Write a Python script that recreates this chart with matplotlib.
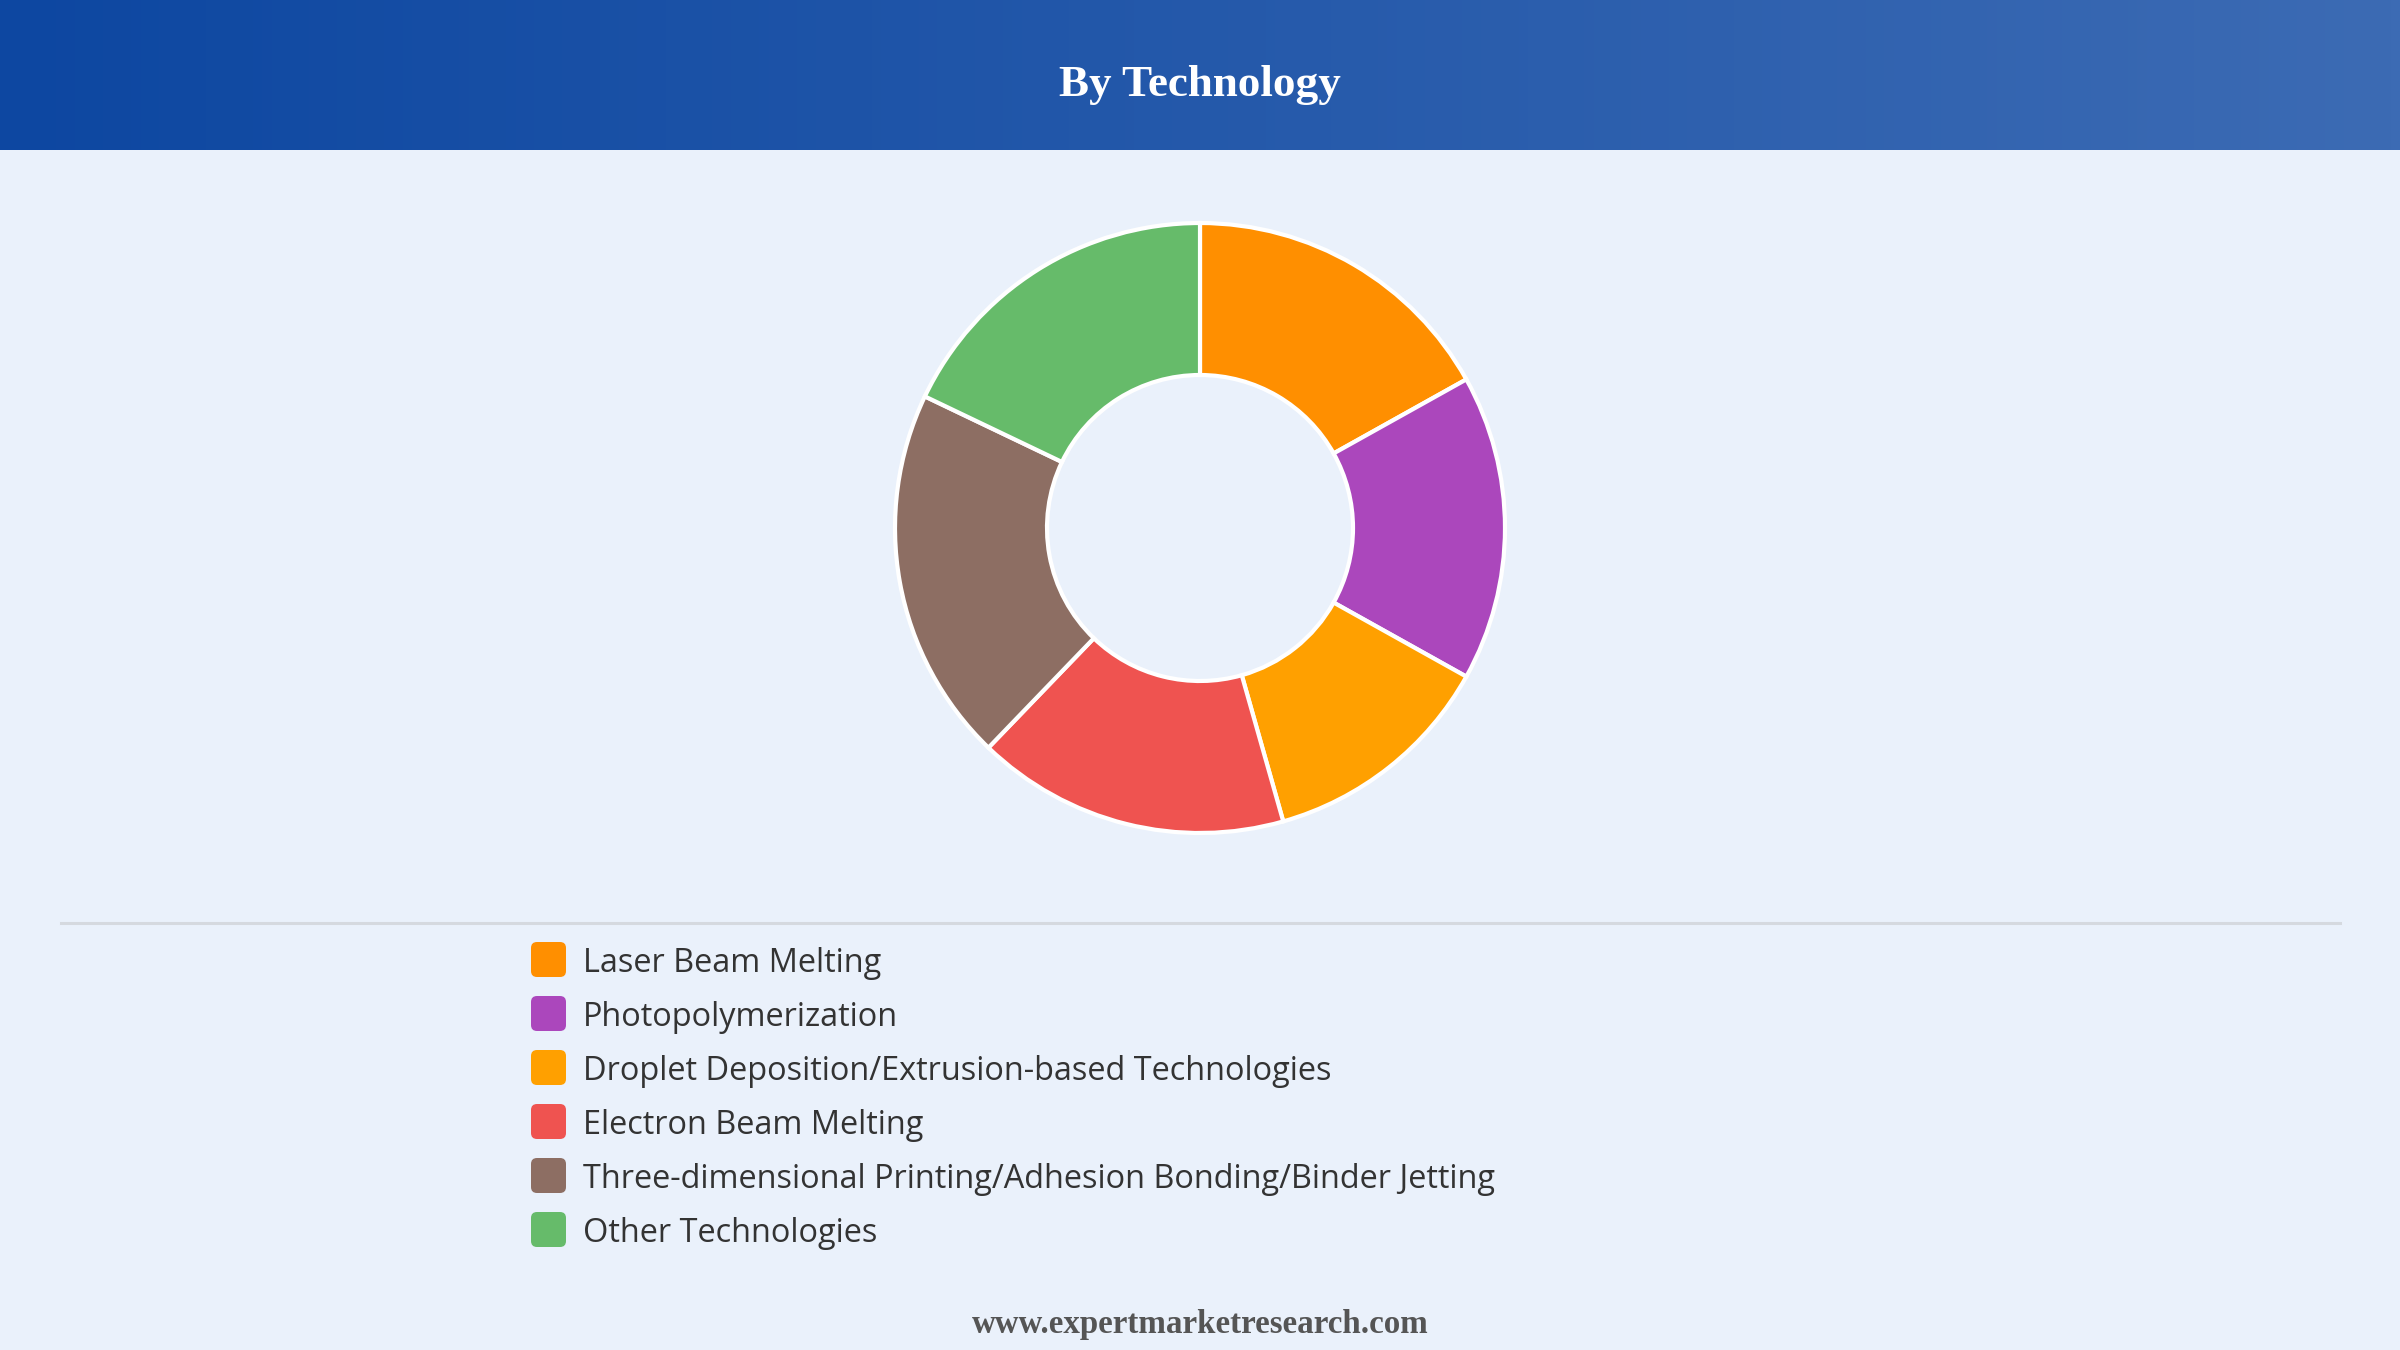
import numpy as np
import matplotlib
matplotlib.use("Agg")
import matplotlib.pyplot as plt
from matplotlib.patches import FancyBboxPatch

categories = [
    "Laser Beam Melting",
    "Photopolymerization",
    "Droplet Deposition/Extrusion-based Technologies",
    "Electron Beam Melting",
    "Three-dimensional Printing/Adhesion Bonding/Binder Jetting",
    "Other Technologies",
]
shares = [16.9, 16.2, 12.5, 16.6, 19.9, 17.9]
colors = ["#FF8F00", "#AB47BC", "#FFA000", "#EF5350", "#8D6E63", "#66BB6A"]
title = "By Technology"
footer = "www.expertmarketresearch.com"

W, H = 2400, 1350
fig = plt.figure(figsize=(24, 13.5), dpi=100)
fig.patch.set_facecolor("#EAF1FB")
ax = fig.add_axes([0, 0, 1, 1])
ax.set_facecolor("#EAF1FB")

# header gradient
grad = np.linspace(0, 1, 256)[None, :, None]
c0 = np.array([13, 71, 161]) / 255
c1 = np.array([60, 107, 180]) / 255
img = c0 + (c1 - c0) * grad
ax.imshow(img, extent=[0, W, H - 150, H], aspect="auto", zorder=1)
ax.text(W / 2, H - 85, title, ha="center", va="center", color="white",
        fontsize=32.5, fontweight="bold", family="Liberation Serif", zorder=3)

# donut
ax.pie(shares, colors=colors, startangle=90, counterclock=False,
       radius=305, center=(1200, H - 528),
       wedgeprops=dict(width=152, edgecolor="white", linewidth=3.0))

ax.set_xlim(0, W)
ax.set_ylim(0, H)
ax.set_aspect("auto")
ax.axis("off")

# separator
ax.plot([61, 2340], [H - 923, H - 923], color="#D5D9DF", lw=2.2, zorder=2)

# legend
row_y = [960, 1014, 1068, 1122, 1176, 1230]
for cat, col, y in zip(categories, colors, row_y):
    ax.add_patch(FancyBboxPatch((531, H - y - 17), 35, 35,
                                boxstyle="round,pad=0,rounding_size=6",
                                fc=col, ec="none", zorder=3))
    ax.text(583, H - y - 3, cat, ha="left", va="center", color="#333333",
            fontsize=23.4, family="Open Sans", zorder=3)

ax.text(W / 2, H - 1324, footer, ha="center", va="center", color="#555555",
        fontsize=23.8, fontweight="bold", family="Liberation Serif")

fig.savefig("out.png", dpi=100, facecolor=fig.get_facecolor())
